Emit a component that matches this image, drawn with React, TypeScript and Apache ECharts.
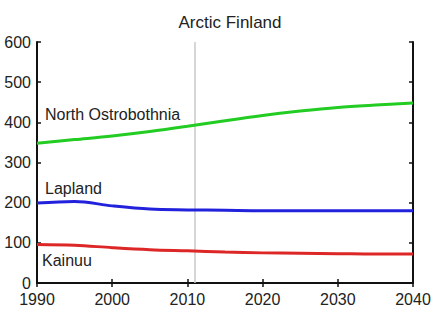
import React, { useEffect, useRef } from "react";
import * as echarts from "echarts";

const years = [1990, 1995, 2000, 2005, 2010, 2015, 2020, 2025, 2030, 2035, 2040];
const northOstrobothnia = [348, 357, 366, 377, 390, 404, 417, 428, 437, 443, 448];
const lapland = [199, 203, 192, 184, 182, 181, 180, 180, 180, 180, 180];
const kainuu = [96, 94, 88, 83, 80, 77, 75, 74, 73, 72, 72];
const markerYear = 2011;
const title = "Arctic Finland";
const seriesNames = ["North Ostrobothnia", "Lapland", "Kainuu"];
const colors = ["#22cc22", "#2222dd", "#dd2626"];

const FONT = '"Liberation Sans", Arial, sans-serif';

export default function App() {
  const ref = useRef<HTMLDivElement>(null);
  useEffect(() => {
    document.body.style.margin = "0";
    const chart = echarts.init(ref.current!, null, { renderer: "svg" });
    const axisLine = { show: true, lineStyle: { color: "#111", width: 2 } };
    const ticks = { show: true, inside: true, length: 4, lineStyle: { color: "#111", width: 1.5 } };
    const toPairs = (vals: number[]) => years.map((y, i) => [y, vals[i]]);
    const mk = (name: string, vals: number[], color: string, extra: any = {}) => ({
      type: "line",
      name,
      data: toPairs(vals),
      smooth: 0.35,
      showSymbol: false,
      lineStyle: { color, width: 3 },
      itemStyle: { color },
      z: 3,
      ...extra,
    });
    chart.setOption({
      animation: false,
      backgroundColor: "#fff",
      textStyle: { fontFamily: FONT },
      title: {
        text: title,
        left: 225,
        textAlign: "center",
        top: 9,
        textStyle: { fontFamily: FONT, fontSize: 17, fontWeight: "normal", color: "#222" },
      },
      grid: { left: 37, right: 22, top: 42, bottom: 27, containLabel: false },
      xAxis: [
        {
          type: "value",
          min: 1990,
          max: 2040,
          interval: 10,
          axisLine,
          axisTick: ticks,
          splitLine: { show: false },
          axisLabel: { fontFamily: FONT, fontSize: 16, color: "#222", margin: 8, formatter: (v: number) => String(v) },
        },
        {
          type: "value",
          position: "top",
          min: 1990,
          max: 2040,
          interval: 10,
          axisLine,
          axisTick: ticks,
          splitLine: { show: false },
          axisLabel: { show: false },
        },
      ],
      yAxis: [
        {
          type: "value",
          min: 0,
          max: 600,
          interval: 100,
          axisLine,
          axisTick: ticks,
          splitLine: { show: false },
          axisLabel: { fontFamily: FONT, fontSize: 16, color: "#222", margin: 6 },
        },
        {
          type: "value",
          position: "right",
          min: 0,
          max: 600,
          interval: 100,
          axisLine,
          axisTick: ticks,
          splitLine: { show: false },
          axisLabel: { show: false },
        },
      ],
      graphic: [
        { type: "text", left: 45, top: 106, style: { text: seriesNames[0], font: `16px ${FONT}`, fill: "#222" } },
        { type: "text", left: 45, top: 180, style: { text: seriesNames[1], font: `16px ${FONT}`, fill: "#222" } },
        { type: "text", left: 42, top: 252, style: { text: seriesNames[2], font: `16px ${FONT}`, fill: "#222" } },
      ],
      series: [
        mk(seriesNames[0], northOstrobothnia, colors[0], {
          markLine: {
            silent: true,
            symbol: "none",
            label: { show: false },
            lineStyle: { color: "#c8c8c8", width: 1.5, type: "solid" },
            data: [{ xAxis: markerYear }],
            z: 1,
          },
        }),
        mk(seriesNames[1], lapland, colors[1]),
        mk(seriesNames[2], kainuu, colors[2]),
      ],
    });
    return () => chart.dispose();
  }, []);
  return <div ref={ref} style={{ width: 435, height: 310 }} />;
}
